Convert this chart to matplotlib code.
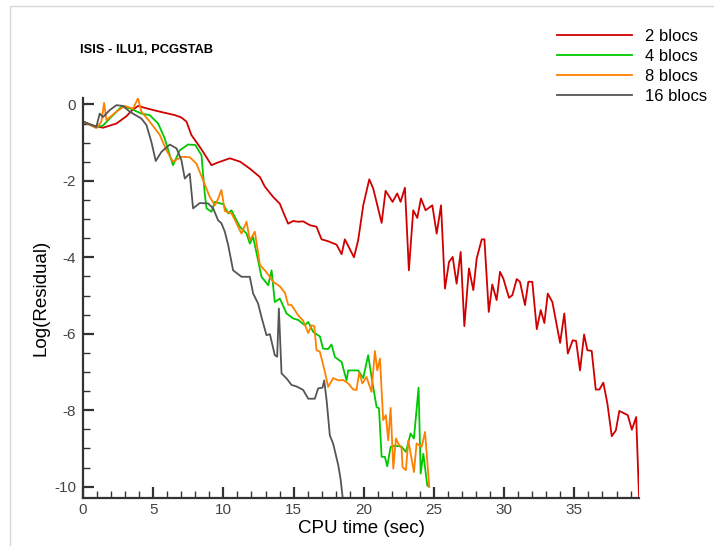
import matplotlib
matplotlib.use('Agg')
import matplotlib.pyplot as plt
from matplotlib.ticker import MultipleLocator
from matplotlib.patches import Rectangle

plt.rcParams['font.family'] = ['Liberation Sans', 'DejaVu Sans']
plt.rcParams['axes.unicode_minus'] = False

# 2 blocs
x_2 = [0, 0.7, 1.43, 2.38, 3.09, 3.45, 3.92, 4.5, 5.47, 6.54, 7.0, 7.37, 7.72, 8.2, 8.55,
       9.15, 9.6, 10.46, 11.2, 11.88, 12.6, 12.95, 13.54, 14.02, 14.25, 14.61, 14.97,
       15.33, 15.68, 16.16, 16.63, 16.99, 17.46, 18.06, 18.42, 18.65, 19.3, 19.6, 19.96,
       20.39, 20.67, 21.27, 21.55, 22.05, 22.38, 22.62, 22.93, 23.21, 23.52, 23.81, 24.07,
       24.4, 24.88, 25.19, 25.5, 25.78, 26.07, 26.33, 26.61, 26.9, 27.16, 27.49, 27.8,
       28.04, 28.4, 28.59, 28.9, 29.15, 29.46, 29.7, 29.94, 30.34, 30.58, 30.89, 31.12,
       31.48, 31.72, 32.0, 32.32, 32.6, 32.86, 33.1, 33.43, 33.98, 34.28, 34.53, 34.88,
       35.12, 35.4, 35.69, 35.92, 36.23, 36.52, 36.78, 37.06, 37.35, 37.66, 37.95, 38.2,
       38.8, 39.09, 39.4, 39.6]
y_2 = [-0.45, -0.55, -0.61, -0.5, -0.31, -0.17, -0.04, -0.1, -0.19, -0.28, -0.34, -0.45,
       -0.8, -1.05, -1.24, -1.59, -1.52, -1.41, -1.5, -1.68, -1.9, -2.15, -2.42, -2.6,
       -2.81, -3.12, -3.05, -3.07, -3.06, -3.16, -3.2, -3.53, -3.58, -3.67, -3.92, -3.53,
       -4.0, -3.55, -2.64, -1.96, -2.2, -3.1, -2.26, -2.55, -2.33, -2.55, -2.18, -4.34,
       -2.77, -2.97, -2.46, -2.77, -2.64, -3.38, -2.64, -4.82, -4.12, -3.99, -4.69, -3.86,
       -5.8, -4.29, -4.86, -4.03, -3.53, -3.53, -5.43, -4.71, -5.12, -4.38, -4.56, -5.06,
       -4.99, -4.57, -4.64, -5.25, -4.64, -4.64, -5.88, -5.38, -5.72, -4.95, -5.17, -6.24,
       -5.47, -6.52, -6.17, -6.19, -6.96, -6.02, -6.43, -6.45, -7.46, -7.46, -7.28, -7.83,
       -8.68, -8.53, -8.02, -8.13, -8.51, -8.18, -10.25]

# 4 blocs
x_4 = [0, 0.95, 1.43, 1.9, 2.74, 3.33, 4.16, 4.75, 5.35, 5.82, 6.18, 6.41, 6.89, 7.48,
       8.0, 8.44, 8.67, 8.8, 9.15, 9.39, 9.98, 10.34, 10.57, 11.17, 11.65, 11.88, 12.12,
       12.47, 12.71, 13.19, 13.43, 13.66, 14.02, 14.5, 14.97, 15.33, 15.8, 16.04, 16.39,
       16.87, 17.1, 17.46, 17.7, 17.94, 18.42, 18.77, 18.89, 19.6, 19.96, 20.31, 20.55,
       20.91, 21.08, 21.27, 21.5, 21.67, 21.91, 22.2, 22.67, 23.0, 23.33, 23.57, 23.9,
       24.05, 24.24, 24.52, 24.64]
y_4 = [-0.45, -0.59, -0.55, -0.37, -0.06, -0.1, -0.24, -0.28, -0.5, -0.89, -1.33, -1.59,
       -1.2, -1.05, -1.06, -1.33, -2.33, -2.72, -2.81, -2.55, -2.61, -2.85, -2.77, -3.2,
       -3.38, -3.64, -3.47, -4.08, -4.51, -4.73, -4.34, -5.17, -5.08, -5.47, -5.6, -5.64,
       -5.78, -5.69, -5.95, -6.07, -6.39, -6.4, -6.28, -6.61, -6.74, -7.22, -6.96, -6.96,
       -7.16, -6.56, -7.13, -7.92, -7.95, -9.22, -9.22, -9.47, -8.96, -8.93, -8.95, -9.09,
       -8.61, -8.74, -7.41, -9.66, -9.14, -9.97, -10.0]

# 8 blocs
x_8 = [0, 0.95, 1.31, 1.5, 1.67, 2.38, 2.97, 3.56, 3.92, 4.16, 4.75, 5.47, 5.94, 6.41,
       7.01, 7.6, 8.08, 8.55, 9.03, 9.39, 9.62, 9.86, 10.1, 10.57, 10.81, 11.29, 11.65,
       11.88, 12.24, 12.6, 12.95, 13.31, 13.54, 14.02, 14.38, 14.61, 14.85, 15.33, 15.68,
       16.04, 16.28, 16.47, 16.63, 16.87, 17.23, 17.46, 17.82, 18.18, 18.53, 18.89, 19.25,
       19.48, 19.67, 19.9, 20.19, 20.55, 20.79, 20.96, 21.15, 21.38, 21.57, 21.74, 21.91,
       22.1, 22.29, 22.45, 22.69, 22.76, 23.0, 23.17, 23.57, 23.76, 24.12, 24.36, 24.66]
y_8 = [-0.45, -0.62, -0.45, 0.04, -0.41, -0.19, -0.04, -0.11, 0.16, -0.19, -0.45, -0.8,
       -1.2, -1.5, -1.37, -1.38, -1.55, -1.98, -2.42, -2.64, -2.47, -2.24, -2.79, -2.85,
       -3.02, -3.38, -3.07, -3.55, -3.33, -4.2, -4.34, -4.51, -4.64, -4.76, -4.93, -5.24,
       -5.25, -5.52, -5.66, -5.98, -5.78, -5.8, -6.43, -6.47, -7.0, -7.39, -7.16, -7.22,
       -7.21, -7.3, -7.46, -7.47, -7.02, -7.3, -7.13, -7.52, -6.45, -6.96, -6.65, -8.26,
       -8.13, -8.79, -7.94, -9.53, -8.74, -8.87, -9.0, -9.49, -9.57, -8.79, -9.62, -8.87,
       -8.96, -8.57, -10.0]

# 16 blocs
x_16 = [0, 0.95, 1.19, 1.43, 1.9, 2.38, 2.85, 3.33, 3.56, 4.16, 4.52, 4.87, 5.18, 5.59,
        6.18, 6.66, 7.01, 7.25, 7.48, 7.6, 7.84, 8.32, 8.91, 9.27, 9.62, 9.86, 10.1, 10.34,
        10.69, 11.29, 11.88, 12.12, 12.47, 12.71, 13.07, 13.31, 13.66, 13.83, 13.95, 14.14,
        14.5, 14.85, 15.21, 15.68, 16.04, 16.51, 16.75, 17.06, 17.18, 17.35, 17.58, 17.82,
        18.18, 18.34, 18.49]
y_16 = [-0.45, -0.59, -0.24, -0.33, -0.15, -0.02, -0.04, -0.19, -0.24, -0.37, -0.54,
        -0.98, -1.48, -1.24, -1.05, -1.15, -1.46, -1.94, -1.85, -1.81, -2.72, -2.58, -2.59,
        -2.72, -3.03, -3.11, -3.33, -3.68, -4.34, -4.51, -4.51, -4.95, -5.21, -5.56, -6.04,
        -6.01, -6.56, -6.6, -5.34, -7.04, -7.17, -7.34, -7.38, -7.47, -7.7, -7.7, -7.43,
        -7.41, -7.22, -7.74, -8.66, -8.88, -9.44, -9.79, -10.27]

labels = ['2 blocs', '4 blocs', '8 blocs', '16 blocs']
colors = ['#d00000', '#00c800', '#ff8000', '#555555']
series = [(x_2, y_2), (x_4, y_4), (x_8, y_8), (x_16, y_16)]

fig = plt.figure(figsize=(7.14, 5.46), dpi=100)
ax = fig.add_axes([83 / 714, 1 - 497.7 / 546, (639 - 83) / 714, (497.7 - 98.3) / 546])

for (xs, ys), lab, col in zip(series, labels, colors):
    ax.plot(xs, ys, color=col, lw=1.3, label=lab)

ax.set_xlim(0, 39.6)
ax.set_ylim(-10.29, 0.16)

ax.spines['top'].set_visible(False)
ax.spines['right'].set_visible(False)
for s in ['left', 'bottom']:
    ax.spines[s].set_color('#333333')
    ax.spines[s].set_linewidth(1.6)

ax.xaxis.set_major_locator(MultipleLocator(5))
ax.xaxis.set_minor_locator(MultipleLocator(1))
ax.yaxis.set_major_locator(MultipleLocator(2))
ax.yaxis.set_minor_locator(MultipleLocator(0.5))
ax.tick_params(which='both', direction='in', color='#333333', labelcolor='#444444',
               labelsize=11)
ax.tick_params(which='major', length=8, width=1.6)
ax.tick_params(which='minor', length=5, width=1.0)
ax.tick_params(axis='x', which='major', pad=4)
ax.tick_params(axis='y', which='major', pad=5)

ax.set_xlabel('CPU time (sec)', fontsize=13.5, labelpad=2)
ax.set_ylabel('Log(Residual)', fontsize=13.5, labelpad=3)

fig.text(80 / 714, 1 - 50 / 546, 'ISIS - ILU1, PCGSTAB', fontsize=9.3, fontweight='bold',
         ha='left', va='center')

ax.legend(loc='upper left', bbox_to_anchor=(557 / 714, 1 - 29 / 546),
          bbox_transform=fig.transFigure, frameon=False, fontsize=12,
          handlelength=4.5, handletextpad=0.8, labelspacing=0.3,
          borderpad=0, borderaxespad=0)

# light frame of the original screenshot
fig.patches.append(Rectangle((10 / 714, -0.01), 1.0, 1 - 6 / 546 + 0.01,
                             transform=fig.transFigure, fill=False,
                             edgecolor='#d8d8d8', lw=1.0))

fig.savefig('out.png', dpi=100)
